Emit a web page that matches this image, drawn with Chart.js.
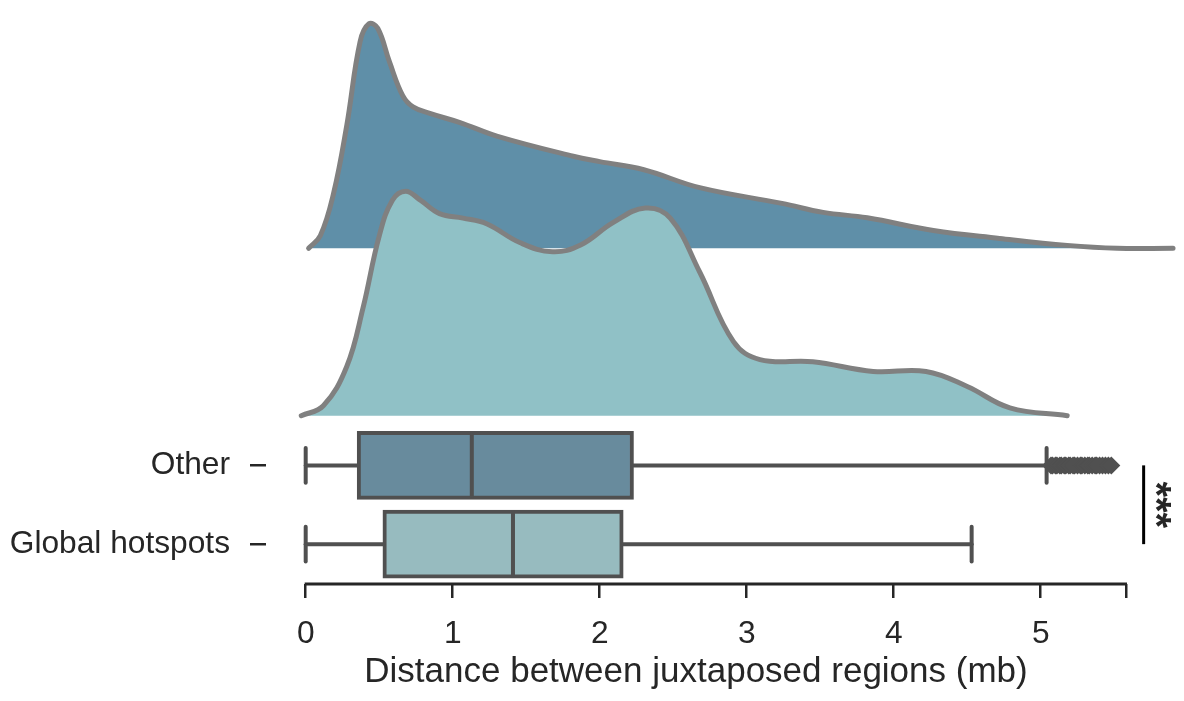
<!DOCTYPE html>
<html>
<head>
<meta charset="utf-8">
<script src="https://cdn.jsdelivr.net/npm/chart.js@4.4.1/dist/chart.umd.min.js"></script>
<style>
  html, body { margin: 0; padding: 0; background: #fff; }
  #wrap { width: 1184px; height: 701px; position: relative; }
</style>
</head>
<body>
<div id="wrap"><canvas id="myChart"></canvas></div>
<script>
// rows of the box plot, bottom to top
var rowLabels = ['Global hotspots', 'Other'];
var xTickValues = [0, 1, 2, 3, 4, 5];

// ridge densities (scaled to their own peak)
var otherDensX = [0.02, 0.1, 0.19, 0.28, 0.37, 0.43, 0.49, 0.57, 0.66, 0.73, 0.85, 1.05, 1.3, 1.82, 2.0, 2.3, 2.68, 3.24, 3.52, 3.82, 4.27, 4.72, 5.18, 5.52, 5.9];
var otherDensY = [0, 0.057, 0.246, 0.55, 0.92, 1.0, 0.98, 0.83, 0.68, 0.63, 0.6, 0.56, 0.5, 0.41, 0.386, 0.35, 0.27, 0.2, 0.16, 0.136, 0.079, 0.044, 0.013, 0, 0];
var hotDensX = [-0.03, 0.12, 0.28, 0.39, 0.5, 0.59, 0.68, 0.78, 0.91, 1.07, 1.23, 1.46, 1.68, 1.87, 2.09, 2.31, 2.48, 2.68, 2.91, 3.09, 3.45, 3.86, 4.22, 4.5, 4.79, 5.18];
var hotDensY = [0, 0.044, 0.22, 0.48, 0.8, 0.96, 1.0, 0.96, 0.9, 0.88, 0.855, 0.77, 0.73, 0.76, 0.86, 0.925, 0.88, 0.64, 0.33, 0.25, 0.24, 0.197, 0.197, 0.13, 0.035, 0];

// box plot stats, index = row (0 Global hotspots, 1 Other)
var boxMin = [0, 0];
var boxQ1 = [0.525, 0.35];
var boxMedian = [1.41, 1.13];
var boxQ3 = [2.16, 2.23];
var boxMax = [4.53, 5.04];
var otherOutliers = [5.07, 5.08, 5.1, 5.11, 5.13, 5.14, 5.16, 5.17, 5.19, 5.2, 5.22, 5.23, 5.25, 5.27, 5.28, 5.3, 5.32, 5.33, 5.35, 5.37, 5.38, 5.4, 5.42, 5.44, 5.46, 5.48];

var sigX = 5.70;

// layout constants (row units on y)
var ridgeBase = { other: 3.756, hot: 1.631 };
var ridgeScale = 2.85;
var boxHalf = 0.42, capHalf = 0.22;
var edge = '#505050', ink = '#262626';

Chart.defaults.font.family = "'Liberation Sans', Arial, sans-serif";
Chart.defaults.color = ink;

function ridge(xs, ys, base) {
  return xs.map(function(x, i) { return { x: x, y: base + ys[i] * ridgeScale }; });
}

var datasets = [];
datasets.push({
  label: 'Other density', data: ridge(otherDensX, otherDensY, ridgeBase.other),
  borderColor: '#808080', borderWidth: 5, backgroundColor: '#5f8fa8',
  fill: { value: ridgeBase.other }, tension: 0.4,
  borderCapStyle: 'round', pointRadius: 0, clip: false, order: 10
});
datasets.push({
  label: 'Hotspot density', data: ridge(hotDensX, hotDensY, ridgeBase.hot),
  borderColor: '#808080', borderWidth: 5, backgroundColor: '#90c1c6',
  fill: { value: ridgeBase.hot }, tension: 0.4,
  borderCapStyle: 'round', pointRadius: 0, clip: false, order: 9
});

var boxColors = ['#97bbbf', '#688b9d'];
for (var r = 0; r < rowLabels.length; r++) {
  datasets.push({
    type: 'bar', indexAxis: 'y', label: rowLabels[r] + ' box',
    data: [{ x: [boxQ1[r], boxQ3[r]], y: r }],
    backgroundColor: boxColors[r], borderColor: edge, borderWidth: 4,
    borderSkipped: false, barThickness: 68, grouped: false, order: 3
  });
  var segs = [
    [{ x: boxMin[r], y: r }, { x: boxQ1[r], y: r }],
    [{ x: boxQ3[r], y: r }, { x: boxMax[r], y: r }],
    [{ x: boxMin[r], y: r - capHalf }, { x: boxMin[r], y: r + capHalf }],
    [{ x: boxMax[r], y: r - capHalf }, { x: boxMax[r], y: r + capHalf }],
    [{ x: boxMedian[r], y: r - boxHalf + 0.03 }, { x: boxMedian[r], y: r + boxHalf - 0.03 }]
  ];
  segs.forEach(function(s) {
    datasets.push({
      data: s, borderColor: edge, borderWidth: 4, borderCapStyle: 'round',
      pointRadius: 0, fill: false, order: 2
    });
  });
}
datasets.push({
  label: 'Outliers', data: otherOutliers.map(function(v) { return { x: v, y: 1 }; }),
  showLine: false, pointStyle: 'rectRot', pointRadius: 9,
  backgroundColor: edge, borderColor: edge, borderWidth: 0, order: 1, clip: false
});

var extras = {
  id: 'extras',
  beforeDatasetsDraw: function(chart) {
    var ctx = chart.ctx, xs = chart.scales.x, a = chart.chartArea;
    ctx.save();
    ctx.strokeStyle = ink; ctx.lineWidth = 3;
    ctx.beginPath();
    ctx.moveTo(xs.getPixelForValue(0) - 1, a.bottom);
    ctx.lineTo(a.right + 1, a.bottom);
    ctx.stroke();
    ctx.restore();
  },
  afterDraw: function(chart) {
    var ctx = chart.ctx, xs = chart.scales.x, ys = chart.scales.y;
    var px = xs.getPixelForValue(sigX);
    var y0 = ys.getPixelForValue(1), y1 = ys.getPixelForValue(0);
    ctx.save();
    ctx.strokeStyle = '#000'; ctx.lineWidth = 3;
    ctx.beginPath(); ctx.moveTo(px, y0); ctx.lineTo(px, y1); ctx.stroke();
    ctx.translate(px + 10, (y0 + y1) / 2);
    ctx.rotate(Math.PI / 2);
    ctx.fillStyle = ink;
    ctx.font = "bold 40px 'Liberation Sans', Arial, sans-serif";
    ctx.textAlign = 'center'; ctx.textBaseline = 'middle';
    ctx.fillText('***', 0, 0);
    ctx.restore();
  }
};

var ctx = document.getElementById('myChart').getContext('2d');
var chart = new Chart(ctx, {
  type: 'line',
  data: { datasets: datasets },
  options: {
    responsive: true, maintainAspectRatio: false, animation: false,
    layout: { padding: { left: 0, right: 58, top: 0, bottom: 0 } },
    plugins: { legend: { display: false }, tooltip: { enabled: false } },
    scales: {
      x: {
        type: 'linear', min: -0.27, max: 5.58, offset: false,
        afterBuildTicks: function(s) {
          s.ticks = xTickValues.concat([s.max]).map(function(v) { return { value: v }; });
        },
        afterFit: function(s) { s.height = 117; s.paddingLeft = 0; s.paddingRight = 0; },
        border: { display: false },
        grid: { offset: false, drawOnChartArea: false, drawTicks: true, tickLength: 14, color: ink, lineWidth: 2.5 },
        ticks: {
          font: { size: 31.7 }, color: ink, padding: 17, maxRotation: 0, autoSkip: false,
          callback: function(v) { return xTickValues.indexOf(v) >= 0 ? String(v) : ''; }
        },
        title: {
          display: true, text: 'Distance between juxtaposed regions (mb)',
          font: { size: 35 }, color: ink, padding: { top: 0, bottom: 8 }
        }
      },
      y: {
        type: 'linear', min: -0.506, max: 6.794, offset: false,
        afterBuildTicks: function(s) {
          s.ticks = rowLabels.map(function(l, i) { return { value: i }; });
        },
        afterFit: function(s) { s.width = 266; s.paddingTop = 0; s.paddingBottom = 0; },
        border: { display: false },
        grid: { offset: false, drawOnChartArea: false, drawTicks: true, tickLength: 16, color: ink, lineWidth: 2.5 },
        ticks: {
          font: { size: 31.7 }, color: ink, padding: 20, autoSkip: false,
          callback: function(v) { return rowLabels[v]; }
        }
      }
    }
  },
  plugins: [extras]
});
</script>
</body>
</html>
